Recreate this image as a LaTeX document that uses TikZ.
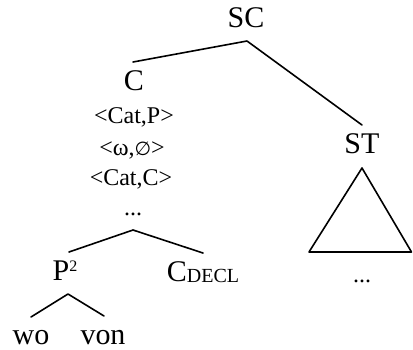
\documentclass[tikz,border=0pt]{standalone}
\usepackage{fontspec}
\setmainfont{Liberation Serif}
\newfontfamily\symfont{DejaVu Sans}
\begin{document}
\begin{tikzpicture}[x=1pt,y=-1pt,
  big/.style={font=\fontsize{30}{34}\selectfont, inner sep=0pt, anchor=base},
  feat/.style={font=\fontsize{24}{28}\selectfont, inner sep=0pt, anchor=base},
  branch/.style={line width=1.6pt, line cap=round, line join=round}]
\useasboundingbox (0,0) rectangle (413,349);
% nodes
\node[big] (sc) at (246,27) {SC};
\node[big] (c) at (134,90) {C};
\node[feat] (f1) at (134,123) {<Cat,P>};
\node[feat] (f2) at (132,155) {<ω,{\symfont\fontsize{19}{23}\selectfont ∅}>};
\node[feat] (f3) at (131,185) {<Cat,C>};
\node[feat] (f4) at (133,215) {...};
\node[big] (p2) at (65,280) {P\raisebox{9pt}{\fontsize{16}{18}\selectfont 2}};
\node[big] (cdecl) at (203,281) {C\raisebox{-1pt}{\fontsize{20}{22}\selectfont DECL}};
\node[big] (wo) at (31,344) {wo};
\node[big] (von) at (103,344) {von};
\node[big] (st) at (362,153) {ST};
\node[feat] (stdots) at (362,282) {...};
% connector end points
\coordinate (sc-a) at (247,41);
\coordinate (sc-l) at (133,62);
\coordinate (sc-r) at (362,125);
\coordinate (c-a) at (133,230);
\coordinate (c-l) at (69,252);
\coordinate (c-r) at (203,253);
\coordinate (p-a) at (68,294);
\coordinate (p-l) at (31,317);
\coordinate (p-r) at (104,316);
\coordinate (t-a) at (362,168);
\coordinate (t-l) at (309,252);
\coordinate (t-r) at (411.5,252);
% branches
\draw[branch] (sc-l) -- (sc-a) -- (sc-r);
\draw[branch] (c-l) -- (c-a) -- (c-r);
\draw[branch] (p-l) -- (p-a) -- (p-r);
\draw[branch] (t-a) -- (t-l) -- (t-r) -- cycle;
\end{tikzpicture}
\end{document}
